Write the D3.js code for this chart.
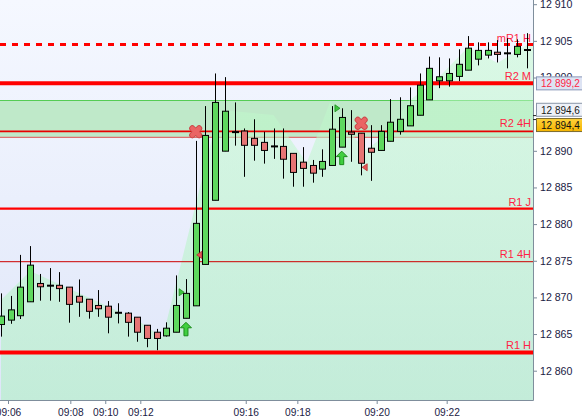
<!DOCTYPE html>
<html>
<head>
<meta charset="utf-8">
<script src="https://cdn.jsdelivr.net/npm/d3@7"></script>
<style>
  html, body { margin: 0; padding: 0; background: #ffffff; }
  svg { display: block; }
  text { font-family: "Liberation Sans", Arial, sans-serif; }
</style>
</head>
<body>
<svg id="chart" width="582" height="418"></svg>
<script>
// ---------------- DATA ----------------
const opens  = [12866.3, 12866.9, 12867.5, 12869.4, 12871.9, 12871.6, 12871.65, 12871.4, 12870.15, 12869.75,
                12868.9, 12868.8, 12867.9, 12867.85, 12867.3, 12866.2, 12865.25, 12864.75, 12865.25, 12867.15,
                12868.85, 12874.5, 12883.25, 12889.95, 12892.55, 12892.7, 12891.7, 12891.15, 12890.6, 12890.6,
                12889.65, 12888.45, 12888.0, 12887.5, 12888.0, 12890.5, 12892.55, 12892.4, 12890.35, 12890.05,
                12891.3, 12892.65, 12893.4, 12894.85, 12896.95, 12899.55, 12899.55, 12900.15, 12901.0, 12902.5,
                12903.05, 12903.45, 12903.3, 12903.15, 12903.75];
const highs  = [12870.55, 12870.2, 12875.8, 12877.0, 12873.2, 12874.0, 12873.45, 12871.4, 12872.45, 12869.75,
                12871.0, 12869.5, 12869.2, 12868.0, 12867.3, 12866.2, 12865.7, 12866.6, 12873.0, 12872.5,
                12891.35, 12896.1, 12900.55, 12900.05, 12896.6, 12893.05, 12894.3, 12892.6, 12893.05, 12893.05,
                12889.65, 12890.5, 12888.75, 12890.2, 12896.1, 12895.8, 12895.55, 12892.4, 12893.5, 12893.5,
                12897.05, 12897.3, 12898.65, 12900.55, 12902.85, 12902.75, 12902.6, 12903.85, 12905.65, 12904.8,
                12904.8, 12905.1, 12905.35, 12905.2, 12906.05];
const lows   = [12864.65, 12866.4, 12867.05, 12869.4, 12869.55, 12869.55, 12869.4, 12866.55, 12867.35, 12867.1,
                12867.35, 12865.1, 12866.45, 12864.65, 12863.95, 12863.2, 12862.8, 12864.65, 12865.25, 12867.15,
                12868.85, 12874.5, 12883.25, 12889.95, 12890.7, 12886.45, 12888.65, 12888.25, 12888.9, 12886.2,
                12885.1, 12885.1, 12885.65, 12886.45, 12888.0, 12890.5, 12888.5, 12886.65, 12885.9, 12890.05,
                12891.3, 12892.2, 12893.4, 12894.85, 12896.95, 12898.55, 12898.75, 12899.5, 12901.0, 12901.65,
                12902.6, 12902.05, 12901.25, 12902.75, 12901.25];
const closes = [12867.45, 12868.3, 12871.4, 12874.4, 12871.45, 12871.6, 12871.2, 12869.05, 12869.35, 12868.1,
                12868.45, 12867.3, 12867.9, 12866.6, 12865.25, 12864.4, 12864.4, 12865.8, 12868.9, 12870.55,
                12880.1, 12892.1, 12896.6, 12895.4, 12892.55, 12890.75, 12890.75, 12890.05, 12890.6, 12888.85,
                12887.05, 12887.6, 12886.95, 12888.55, 12892.95, 12894.55, 12892.25, 12888.3, 12889.8, 12892.65,
                12893.9, 12894.3, 12896.15, 12898.95, 12901.25, 12900.1, 12900.55, 12901.8, 12904.0, 12903.7,
                12903.7, 12903.15, 12903.3, 12904.25, 12903.75];

// time axis (positions in candle-index units) and labels
const timeTickIdx    = [0.72, 7.12, 10.71, 14.31, 25.14, 30.44, 38.59, 45.78];
const timeTickLabels = ["09:06", "09:08", "09:10", "09:12", "09:16", "09:18", "09:20", "09:22"];

// price axis ticks (12 895 is hidden behind the price tags in the original)
const priceTicks = [12860, 12865, 12870, 12875, 12880, 12885, 12890, 12900, 12905, 12910];

// horizontal levels
const levelNames  = ["mR1 H", "R2 M", "R2 4H", "R1 J", "R1 4H", "R1 H"];
const levelValues = [12904.5, 12899.2, 12892.66, 12882.1, 12874.87, 12862.48];

// green zone (band)
const bandTop = 12896.93;
const bandBottom = 12891.84;

// background indicator area (index, value)
const areaIdx = [0, 3, 8, 14, 16.6, 22.4, 28, 31.4, 33.8, 36.5, 37.5, 39.5, 42, 44.5, 48, 51, 54, 54.7];
const areaVal = [12869.65, 12873.6, 12870.6, 12866.9, 12864.5, 12895.57, 12894.89, 12888.34, 12896.66, 12891.47,
                 12890.1, 12892.15, 12896.93, 12899.39, 12904.16, 12901.98, 12904.43, 12904.43];

// signals
const upArrowIdx = [19, 35],  upArrowVal = [12865.65, 12889.0];
const crossIdx   = [20, 37],  crossVal   = [12892.6, 12893.75];
const buyTriIdx  = [19, 35],  buyTriVal  = [12870.7, 12895.8];
const sellTriIdx = [20, 37],  sellTriVal = [12875.8, 12887.75];

// price tags on the axis
const tagValues = [12899.2, 12894.6, 12894.4];
const tagTexts  = ["12 899,2", "12 894,6", "12 894,4"];

// ---------------- DRAW ----------------
const plotR = 533, plotB = 400;
const svg = d3.select("#chart");

const x = d3.scaleLinear().domain([0, 54]).range([1, 526.7]);
const y = d3.scaleLinear().domain([12860, 12910]).range([370.7, 4.2]);

const defs = svg.append("defs");
const bg = defs.append("linearGradient").attr("id", "bg").attr("x1", 0).attr("y1", 0).attr("x2", 0).attr("y2", 1);
bg.append("stop").attr("offset", 0).attr("stop-color", "#f5f8ff");
bg.append("stop").attr("offset", 1).attr("stop-color", "#dfe6f9");
const ag = defs.append("linearGradient").attr("id", "ag").attr("x1", 0).attr("y1", 0).attr("x2", 0).attr("y2", 1);
ag.append("stop").attr("offset", 0).attr("stop-color", "#c2fbcc").attr("stop-opacity", 0.5);
ag.append("stop").attr("offset", 1).attr("stop-color", "#b4efc8").attr("stop-opacity", 0.65);
const gg = defs.append("linearGradient").attr("id", "gold").attr("x1", 0).attr("y1", 0).attr("x2", 0).attr("y2", 1);
gg.append("stop").attr("offset", 0).attr("stop-color", "#ffd23a");
gg.append("stop").attr("offset", 1).attr("stop-color", "#f5b400");
defs.append("clipPath").attr("id", "clip").append("rect")
  .attr("x", 0).attr("y", 0).attr("width", plotR).attr("height", plotB);

const plot = svg.append("g").attr("clip-path", "url(#clip)");
plot.append("rect").attr("x", 0).attr("y", 0).attr("width", plotR).attr("height", plotB).attr("fill", "url(#bg)");

// band
plot.append("rect")
  .attr("x", 0).attr("width", plotR)
  .attr("y", y(bandTop)).attr("height", y(bandBottom) - y(bandTop))
  .attr("fill", "#bfe9c9");
plot.append("line").attr("x1", 0).attr("x2", plotR)
  .attr("y1", Math.round(y(bandTop)) + 0.5).attr("y2", Math.round(y(bandTop)) + 0.5)
  .attr("stroke", "#55cc55").attr("stroke-width", 1);
plot.append("line").attr("x1", 0).attr("x2", plotR)
  .attr("y1", y(bandBottom)).attr("y2", y(bandBottom))
  .attr("stroke", "#e07070").attr("stroke-width", 1.3);

// indicator area
const areaPts = areaIdx.map((d, i) => [d, areaVal[i]]);
plot.append("path")
  .attr("d", d3.area().x(d => x(d[0])).y0(plotB).y1(d => y(d[1])).curve(d3.curveLinear)(areaPts))
  .attr("fill", "url(#ag)");

// levels
const lvlStyle = {
  "mR1 H": {w: 3, dash: "6,6", c: "#ff0000", dy: 2.6},
  "R2 M":  {w: 4, dash: null,  c: "#ff0000", dy: 3.2},
  "R2 4H": {w: 1.8, dash: null, c: "#e80000", dy: 4},
  "R1 J":  {w: 2.2, dash: null, c: "#ff0000", dy: 2.8},
  "R1 4H": {w: 1, dash: null,  c: "#cc0000", dy: 4},
  "R1 H":  {w: 4, dash: null,  c: "#ff0000", dy: 3.4}
};
levelNames.forEach((n, i) => {
  const s = lvlStyle[n];
  const yy = y(levelValues[i]);
  plot.append("line").attr("x1", 0).attr("x2", plotR).attr("y1", yy).attr("y2", yy)
    .attr("stroke", s.c).attr("stroke-width", s.w)
    .attr("stroke-dasharray", s.dash);
  plot.append("text").attr("x", 531).attr("y", yy - s.dy)
    .attr("text-anchor", "end").attr("font-size", 11).attr("fill", "#ff1f45")
    .text(n);
});

// candles
const candles = opens.map((o, i) => ({i, o, h: highs[i], l: lows[i], c: closes[i]}));
const cg = plot.append("g");
candles.forEach(d => {
  const cx = Math.round(x(d.i)) + 0.5;
  cg.append("line").attr("x1", cx).attr("x2", cx).attr("y1", y(d.h)).attr("y2", y(d.l))
    .attr("stroke", "#000").attr("stroke-width", 1);
  const top = y(Math.max(d.o, d.c)), bot = y(Math.min(d.o, d.c));
  if (Math.abs(d.o - d.c) < 0.01) {
    cg.append("rect").attr("x", cx - 3.5).attr("y", top - 1).attr("width", 7).attr("height", 2).attr("fill", "#000");
  } else {
    cg.append("rect").attr("x", cx - 3).attr("y", top).attr("width", 6).attr("height", Math.max(1.5, bot - top))
      .attr("fill", d.c > d.o ? "#5ed85e" : "#e67474")
      .attr("stroke", "#000").attr("stroke-width", 1);
  }
});

// signals
const sg = plot.append("g");
upArrowIdx.forEach((d, i) => {
  sg.append("path").attr("transform", `translate(${x(d)},${y(upArrowVal[i])})`)
    .attr("d", "M0,-7 L5.5,-1.5 L2,-1.5 L2,6.5 L-2,6.5 L-2,-1.5 L-5.5,-1.5 Z")
    .attr("fill", "#3fcf3f").attr("stroke", "#1c8c1c").attr("stroke-width", 1);
});
crossIdx.forEach((d, i) => {
  const gx = sg.append("g").attr("transform", `translate(${x(d)},${y(crossVal[i])})`);
  gx.append("path").attr("d", "M-3.4,-3.4 L3.4,3.4 M3.4,-3.4 L-3.4,3.4")
    .attr("stroke", "#c94848").attr("stroke-width", 6.2).attr("stroke-linecap", "round");
  gx.append("path").attr("d", "M-3.4,-3.4 L3.4,3.4 M3.4,-3.4 L-3.4,3.4")
    .attr("stroke", "#ea6464").attr("stroke-width", 4.4).attr("stroke-linecap", "round");
});
buyTriIdx.forEach((d, i) => {
  sg.append("path").attr("transform", `translate(${x(d) - 4.8},${y(buyTriVal[i])})`)
    .attr("d", "M-2,-3.5 L3,0 L-2,3.5 Z")
    .attr("fill", "#3fc63f").attr("stroke", "#1c8c1c").attr("stroke-width", 0.8);
});
sellTriIdx.forEach((d, i) => {
  sg.append("path").attr("transform", `translate(${x(d) + 4},${y(sellTriVal[i])})`)
    .attr("d", "M2,-3.5 L-3,0 L2,3.5 Z")
    .attr("fill", "#e55555").attr("stroke", "#b83030").attr("stroke-width", 0.8);
});

// axes
const fmtLocale = d3.formatLocale({decimal: ",", thousands: " ", grouping: [3], currency: ["", ""]});
const fmt = fmtLocale.format(",.0f");

const yAxis = svg.append("g").attr("transform", `translate(${plotR},0)`)
  .call(d3.axisRight(y).tickValues(priceTicks).tickSize(4).tickSizeOuter(0).tickPadding(3).tickFormat(fmt));
yAxis.select(".domain").remove();
yAxis.selectAll("line").attr("stroke", "#7a8a9a");
yAxis.selectAll("text").attr("font-size", 10.6).attr("fill", "#1a1a44")
  .attr("font-family", "'Liberation Sans', Arial, sans-serif");

const xAxis = svg.append("g").attr("transform", `translate(0,${plotB})`)
  .call(d3.axisBottom(x).tickValues(timeTickIdx).tickSize(4).tickSizeOuter(0).tickPadding(5)
        .tickFormat((d, i) => timeTickLabels[i]));
xAxis.select(".domain").remove();
xAxis.selectAll("line").attr("stroke", "#7a8a9a");
xAxis.selectAll("text").attr("font-size", 10.2).attr("fill", "#1a1a44")
  .attr("font-family", "'Liberation Sans', Arial, sans-serif");

svg.append("line").attr("x1", plotR + 0.5).attr("x2", plotR + 0.5).attr("y1", 0).attr("y2", plotB + 0.5)
  .attr("stroke", "#7f8e9c").attr("stroke-width", 1);
svg.append("line").attr("x1", 0).attr("x2", plotR + 0.5).attr("y1", plotB + 0.5).attr("y2", plotB + 0.5)
  .attr("stroke", "#7f8e9c").attr("stroke-width", 1);

// price tags
const tagStyle = [
  {fill: "#dde3f3", stroke: "#8a98b8", text: "#ff1f45", off: 0},
  {fill: "#eef1f8", stroke: "#8a96a8", text: "#1a1a1a", off: -7.3},
  {fill: "url(#gold)", stroke: "#7a6a30", text: "#111", off: 6.5}
];
[1, 2].forEach(k => {
  svg.append("line").attr("x1", plotR).attr("x2", plotR + 4)
    .attr("y1", y(tagValues[k]) + (k === 1 ? -1.5 : 1)).attr("y2", y(tagValues[k]) + (k === 1 ? -1.5 : 1))
    .attr("stroke", "#222").attr("stroke-width", 1);
});
tagValues.forEach((v, k) => {
  const s = tagStyle[k];
  const cy = y(v) + s.off;
  svg.append("rect").attr("x", 536.5).attr("y", cy - 6.5).attr("width", 50).attr("height", 13)
    .attr("fill", s.fill).attr("stroke", s.stroke).attr("stroke-width", 1);
  svg.append("text").attr("x", 541).attr("y", cy + 3.8).attr("font-size", 10)
    .attr("fill", s.text).text(tagTexts[k]);
});
</script>
</body>
</html>
